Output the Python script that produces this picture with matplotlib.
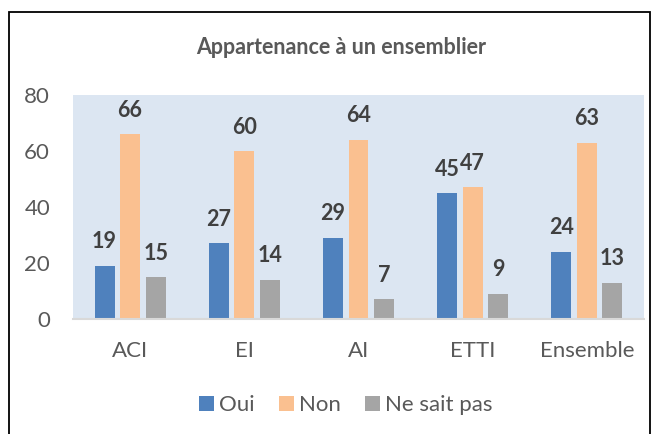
import matplotlib
matplotlib.use('Agg')
import matplotlib.pyplot as plt
import numpy as np

plt.rcParams['font.family'] = ['Lato', 'DejaVu Sans']

# data
categories = ['ACI', 'EI', 'AI', 'ETTI', 'Ensemble']
oui = [19, 27, 29, 45, 24]
non = [66, 60, 64, 47, 63]
nsp = [15, 14, 7, 9, 13]
series_names = ['Oui', 'Non', 'Ne sait pas']
colors = ['#4F81BD', '#FAC090', '#A5A5A5']

fig = plt.figure(figsize=(6.57, 4.34), dpi=100)
# outer chart border (extends past bottom of the picture)
fig.patches.append(plt.Rectangle((9/657, -0.05), (650-9)/657, 1.05 - 12/434,
                                 transform=fig.transFigure, fill=False,
                                 edgecolor='black', linewidth=1.3))

ax = fig.add_axes([73/657, 1-319/434, (644-73)/657, (319-95)/434])
ax.set_facecolor('#DCE6F2')

x = np.arange(len(categories))
w = 0.175
step = 0.224
for i, (vals, name, c) in enumerate(zip([oui, non, nsp], series_names, colors)):
    pos = x + (i - 1) * step
    bars = ax.bar(pos, vals, w, color=c, label=name, zorder=2)
    for xp, v in zip(pos, vals):
        ax.text(xp, v + 6.2, str(v), ha='center', va='baseline', fontsize=15.5,
                fontweight='bold', color='#404040')

ax.set_xlim(-0.5, len(categories) - 0.5)
ax.set_ylim(0, 80)
ax.set_yticks(range(0, 81, 20))
ax.set_xticks(x)
ax.set_xticklabels(categories)
for s in ['top', 'right', 'left']:
    ax.spines[s].set_visible(False)
ax.spines['bottom'].set_color('#D9D9D9')
ax.spines['bottom'].set_linewidth(1.5)
ax.tick_params(length=0, labelsize=16, colors='#595959')
ax.tick_params(axis='x', pad=16)
ax.tick_params(axis='y', pad=16.5)

fig.text(341/657, 1-48/434, 'Appartenance à un ensemblier', ha='center',
         va='center', fontsize=15.5, fontweight='bold', color='#595959')

fig.legend(loc='center', bbox_to_anchor=(346/657, 1-405/434), ncol=3,
           frameon=False, fontsize=16, handlelength=0.65, handleheight=0.65,
           handletextpad=0.25, columnspacing=1.1, labelcolor='#595959')

fig.savefig('out.png', dpi=100)
